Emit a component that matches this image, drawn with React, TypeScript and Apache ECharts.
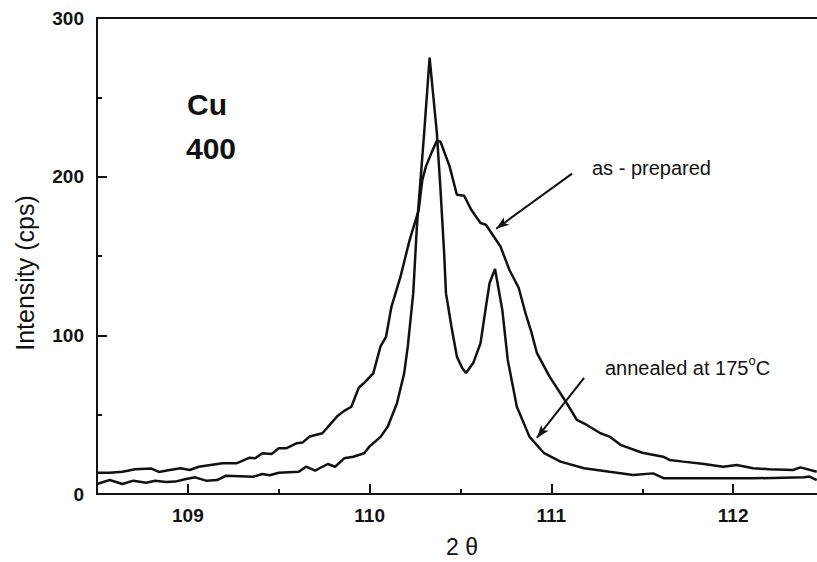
import React, { useEffect, useRef } from "react";
import * as echarts from "echarts";

// 2θ (deg) and intensity (cps)
const twoThetaPrepared = [
  108.5, 108.57, 108.64, 108.71, 108.8, 108.84, 108.9, 108.96, 109.01, 109.06,
  109.19, 109.27, 109.34, 109.37, 109.41, 109.46, 109.5, 109.54, 109.6, 109.63,
  109.67, 109.74, 109.82, 109.86, 109.9, 109.94, 109.97, 110.02, 110.06, 110.09,
  110.12, 110.17, 110.22, 110.27, 110.29, 110.31, 110.34, 110.37, 110.39, 110.44,
  110.48, 110.52, 110.56, 110.61, 110.64, 110.72, 110.77, 110.82, 110.86, 110.89,
  110.92, 110.99, 111.085, 111.14, 111.195, 111.27, 111.32, 111.38, 111.5, 111.615,
  111.65, 111.725, 111.83, 111.945, 112.02, 112.11, 112.2, 112.33, 112.37, 112.46,
];
const intensityPrepared = [
  13.4, 13.4, 14, 15.6, 16, 13.9, 15.1, 16.2, 15.1, 17.2,
  19.4, 19.4, 22.9, 22.5, 25.7, 25.2, 28.8, 28.8, 32, 32.4,
  36.2, 38.3, 48.8, 52.4, 55, 67, 70, 76, 93, 99,
  118, 137, 160, 179, 198, 206.5, 215, 222.7, 222, 206.5,
  188.6, 188, 179, 170.8, 169.7, 156, 141, 130, 113, 102,
  89, 74, 57.2, 46.7, 43.5, 38.3, 36.2, 31, 26, 23.5,
  21.5, 20.4, 19, 17.2, 18.3, 16.2, 15.6, 15.1, 16.8, 14,
];

const twoThetaAnnealed = [
  108.5, 108.57, 108.64, 108.7, 108.77, 108.82, 108.88, 108.93, 108.99, 109.04,
  109.1, 109.16, 109.21, 109.36, 109.41, 109.45, 109.5, 109.61, 109.65, 109.7,
  109.77, 109.81, 109.86, 109.91, 109.97, 110.0, 110.06, 110.1, 110.15, 110.19,
  110.21, 110.24, 110.26, 110.28, 110.3, 110.33, 110.37, 110.39, 110.41, 110.42,
  110.45, 110.48, 110.51, 110.53, 110.57, 110.61, 110.64, 110.66, 110.69, 110.73,
  110.76, 110.81, 110.88, 110.96, 111.05, 111.18, 111.32, 111.45, 111.56, 111.62,
  111.84, 112.11, 112.39, 112.42, 112.46,
];
const intensityAnnealed = [
  6.3, 8.8, 6.3, 8.4, 7.1, 8.4, 7.6, 7.8, 9.5, 10.5,
  8.4, 8.8, 11.5, 10.9, 12.6, 11.8, 13.4, 14, 17.2, 14.7,
  18.9, 17.2, 22.5, 23.5, 25.7, 30, 36, 42.5, 57, 76,
  93, 126.6, 168.6, 198, 227.5, 275, 227.5, 191.8, 151.9, 126.6,
  105.6, 86.6, 79.3, 76.2, 82.5, 95, 118, 133, 141.8, 116,
  84.5, 55, 36, 25.7, 20.4, 16.2, 14, 12, 13, 9.9,
  9.9, 9.9, 10.5, 11, 8.8,
];

const xMajorTicks = [109, 110, 111, 112];
const xMinorTicks = [109.5, 110.5, 111.5];

// arrow annotations in data coordinates: [from, to]
const arrowPrepared = [[111.114, 201.9], [110.696, 167.2]];
const arrowAnnealed = [[111.18, 73.2], [110.92, 35.3]];

const INK = "#111111";
const FONT = "Liberation Sans, Arial, sans-serif";

export default function App() {
  const ref = useRef<HTMLDivElement>(null);

  useEffect(() => {
    if (!ref.current) return;
    const chart = echarts.init(ref.current, null, { renderer: "svg" });
    const zip = (xs: number[], ys: number[]) => xs.map((x, i) => [x, ys[i]]);
    const arrowLine = (a: number[][]) => [
      { coord: a[0], symbol: "none" },
      { coord: a[1], symbol: "arrow", symbolSize: [7, 13] },
    ];

    chart.setOption({
      animation: false,
      backgroundColor: "#ffffff",
      textStyle: { fontFamily: FONT, color: INK },
      grid: {
        left: 97,
        top: 18,
        width: 727,
        height: 476,
        outerBoundsMode: "none",
        containLabel: false,
        show: true,
        borderColor: INK,
        borderWidth: 2,
        backgroundColor: "transparent",
      },
      xAxis: [
        {
          type: "value",
          min: 108.5,
          max: 112.5,
          interval: 0.5,
          position: "bottom",
          axisLine: { show: true, lineStyle: { color: INK, width: 2 } },
          axisTick: {
            show: true,
            inside: true,
            length: 10,
            customValues: xMajorTicks,
            lineStyle: { color: INK, width: 2 },
          },
          axisLabel: {
            customValues: xMajorTicks,
            margin: 12,
            fontSize: 19,
            fontWeight: "bold",
            color: INK,
            fontFamily: FONT,
          },
          splitLine: { show: false },
        },
        {
          type: "value",
          min: 108.5,
          max: 112.5,
          interval: 0.5,
          position: "bottom",
          gridIndex: 0,
          axisLine: { show: false },
          axisTick: {
            show: true,
            inside: true,
            length: 5,
            customValues: xMinorTicks,
            lineStyle: { color: INK, width: 2 },
          },
          axisLabel: { show: false },
          splitLine: { show: false },
        },
      ],
      yAxis: {
        type: "value",
        min: 0,
        max: 300,
        interval: 100,
        axisLine: { show: true, lineStyle: { color: INK, width: 2 } },
        axisTick: { show: true, inside: true, length: 10, lineStyle: { color: INK, width: 2 } },
        minorTick: { show: true, splitNumber: 2, length: 5, lineStyle: { color: INK, width: 2 } },
        axisLabel: {
          margin: 13,
          fontSize: 19,
          fontWeight: "bold",
          color: INK,
          fontFamily: FONT,
        },
        splitLine: { show: false },
        minorSplitLine: { show: false },
      },
      graphic: [
        {
          type: "text",
          x: 25,
          y: 273,
          rotation: Math.PI / 2,
          style: {
            text: "Intensity (cps)",
            fontSize: 25,
            fill: INK,
            align: "center",
            verticalAlign: "middle",
            fontFamily: FONT,
          },
        },
        {
          type: "text",
          x: 462,
          y: 547,
          style: {
            text: "2 θ",
            fontSize: 23,
            fill: INK,
            align: "center",
            verticalAlign: "middle",
            fontFamily: FONT,
          },
        },
        {
          type: "text",
          x: 187,
          y: 104,
          style: { text: "Cu", fontSize: 30, fontWeight: "bold", fill: INK, verticalAlign: "middle", fontFamily: FONT },
        },
        {
          type: "text",
          x: 186,
          y: 148,
          style: { text: "400", fontSize: 30, fontWeight: "bold", fill: INK, verticalAlign: "middle", fontFamily: FONT },
        },
        {
          type: "text",
          x: 592,
          y: 168,
          style: { text: "as - prepared", fontSize: 20, fill: INK, verticalAlign: "middle", fontFamily: FONT },
        },
        {
          type: "text",
          x: 605,
          y: 366,
          style: {
            text: "{m|annealed at 175}{s|o}{m|C}",
            verticalAlign: "middle",
            fill: INK,
            rich: {
              m: { fontSize: 20, fill: INK, verticalAlign: "bottom", lineHeight: 24, fontFamily: FONT },
              s: { fontSize: 13, fill: INK, verticalAlign: "top", lineHeight: 24, fontFamily: FONT },
            },
          },
        },
      ],
      series: [
        {
          name: "as-prepared",
          type: "line",
          data: zip(twoThetaPrepared, intensityPrepared),
          showSymbol: false,
          symbol: "none",
          lineStyle: { color: INK, width: 2.5 },
          itemStyle: { color: INK },
          markLine: {
            silent: true,
            animation: false,
            label: { show: false },
            lineStyle: { color: INK, width: 2, type: "solid" },
            data: [arrowLine(arrowPrepared), arrowLine(arrowAnnealed)],
          },
        },
        {
          name: "annealed at 175°C",
          type: "line",
          data: zip(twoThetaAnnealed, intensityAnnealed),
          showSymbol: false,
          symbol: "none",
          lineStyle: { color: INK, width: 2.5 },
          itemStyle: { color: INK },
        },
      ],
    });
    return () => chart.dispose();
  }, []);

  return (
    <div
      ref={ref}
      style={{ position: "fixed", left: 0, top: 0, width: 817, height: 562, background: "#fff" }}
    />
  );
}
